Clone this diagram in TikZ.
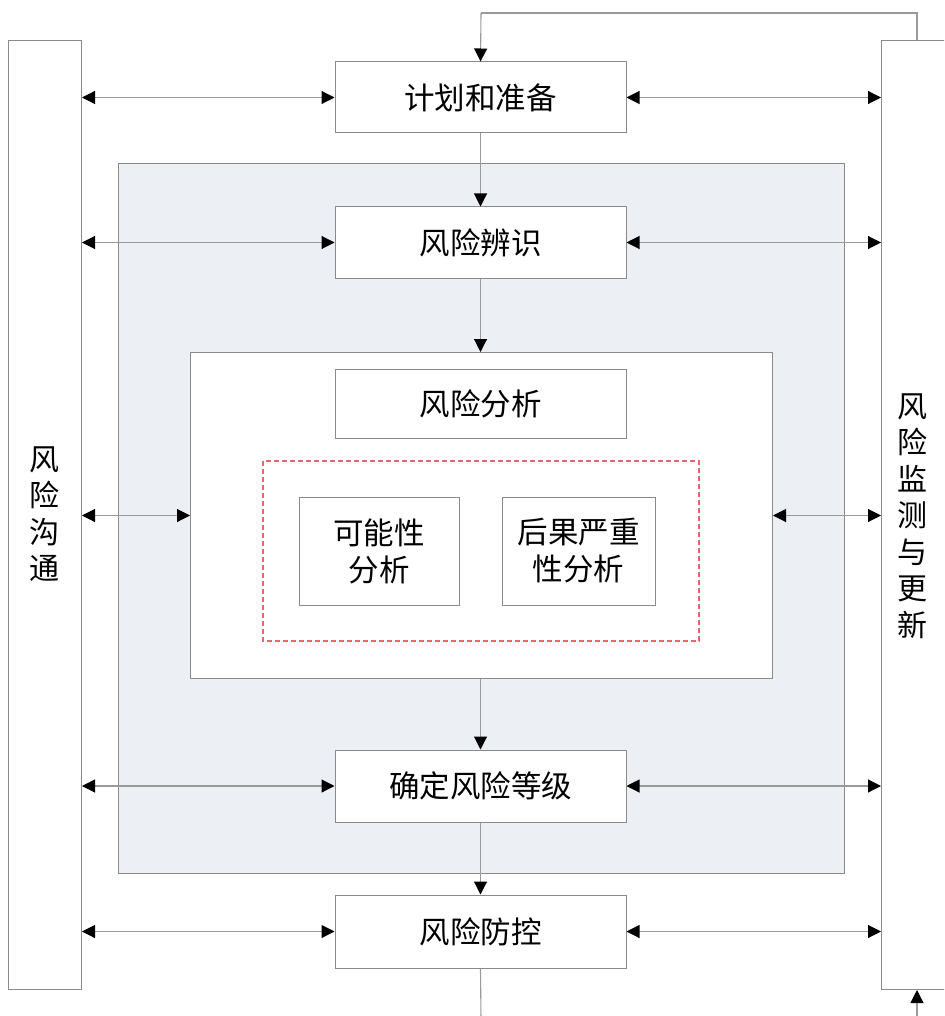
\documentclass[tikz,border=0pt]{standalone}
\usepackage{fontspec}
\newfontfamily\cjk{Noto Sans CJK SC}
\usetikzlibrary{arrows.meta}
\definecolor{boxline}{HTML}{8A8A8A}
\definecolor{conline}{HTML}{9A9A9A}
\definecolor{bgfill}{HTML}{ECEFF4}
\definecolor{dashcol}{RGB}{236,100,110}
\tikzset{
  box/.style={draw=boxline, line width=1pt, fill=white, minimum width=291pt, minimum height=71pt, inner sep=0pt,
    font=\cjk\fontsize{30.5}{37}\selectfont, align=center},
  smallbox/.style={box, minimum width=158pt, minimum height=108pt},
  bar/.style={draw=boxline, line width=1pt, fill=white, inner sep=0pt, anchor=north west},
  bartext/.style={font=\cjk\fontsize{30}{36.5}\selectfont, align=center},
  con/.style={draw=conline, line width=1.1pt},
  dbl/.style={con, {Triangle[length=13pt,width=13pt,black]}-{Triangle[length=13pt,width=13pt,black]}},
  one/.style={con, -{Triangle[length=13pt,width=13pt,black]}},
  redframe/.style={draw=dashcol, line width=1.2pt, dash pattern=on 5pt off 3pt},
}
\begin{document}
\begin{tikzpicture}[x=1pt,y=-1pt]
\useasboundingbox (0,0) rectangle (944,1016);
\clip (0,0) rectangle (944,1016);
% background regions
\node[draw=boxline, line width=1pt, fill=bgfill, minimum width=726pt, minimum height=710pt, inner sep=0pt, anchor=north west] (bg) at (118,163) {};
\node[draw=boxline, line width=1pt, fill=white, minimum width=582pt, minimum height=326pt, inner sep=0pt, anchor=north west] (ana) at (190,352) {};
\coordinate (dnw) at (263,461);
\coordinate (dse) at (699,641);
\draw[redframe] (dnw) rectangle (dse);
% side bars
\node[bar, minimum width=73pt, minimum height=949pt] (lbar) at (8,40) {};
\node[bartext] (ltext) at (44.5,514) {风\\险\\沟\\通};
\node[bar, minimum width=90pt, minimum height=949pt] (rbar) at (881,40) {};
\node[bartext] (rtext) at (912,516) {风\\险\\监\\测\\与\\更\\新};
% process boxes
\node[box] (plan) at (480.5,97.5) {计划和准备};
\node[box] (ident) at (480.5,242.5) {风险辨识};
\node[box, minimum height=69pt] (anat) at (480.5,403.5) {风险分析};
\node[smallbox, minimum width=160pt] (poss) at (379,551) {可能性\\分析};
\node[smallbox, minimum width=153pt] (cons) at (578.5,551) {后果严重\\性分析};
\node[box, minimum height=72pt] (level) at (480.5,786) {确定风险等级};
\node[box, minimum height=73pt] (ctrl) at (480.5,931.5) {风险防控};
% vertical flow
\draw[one] (plan.south) -- (ident.north);
\draw[one] (ident.south) -- (ana.north -| ident.south);
\draw[one] (ana.south -| level.north) -- (level.north);
\draw[one] (level.south) -- (ctrl.north);
% horizontal links
\foreach \n in {plan,ident,level,ctrl}{
  \draw[dbl] (lbar.east |- \n.west) -- (\n.west);
  \draw[dbl] (\n.east) -- (rbar.west |- \n.east);
}
\draw[dbl] (lbar.east |- ana.west) -- (ana.west);
\draw[dbl] (ana.east) -- (rbar.west |- ana.east);
% feedback loop
\coordinate (t1) at (481,13);
\coordinate (t2) at (917,13);
\coordinate (b1) at (481,1020);
\coordinate (b2) at (917,1020);
\draw[con] (rbar.north -| t2) -- (t2) -- (t1);
\draw[one] (t1) -- (plan.north);
\draw[con] (ctrl.south) -- (b1);
\draw[one] (b2) -- (rbar.south -| b2);
\end{tikzpicture}
\end{document}
